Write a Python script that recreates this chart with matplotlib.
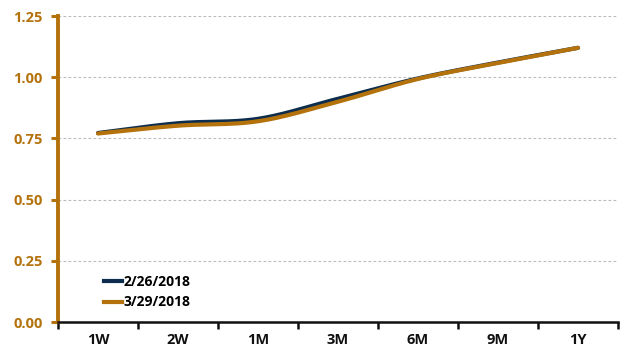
import numpy as np
import matplotlib
matplotlib.use("Agg")
import matplotlib.pyplot as plt
from matplotlib.lines import Line2D

tenors = ["1W", "2W", "1M", "3M", "6M", "9M", "1Y"]
curve_feb = [0.772, 0.812, 0.830, 0.912, 0.995, 1.060, 1.120]
curve_mar = [0.770, 0.802, 0.820, 0.900, 0.993, 1.058, 1.120]
yticks = [0.00, 0.25, 0.50, 0.75, 1.00, 1.25]

NAVY = "#0C2D4E"
GOLD = "#B4720C"


def smooth(xs, ys, n=30):
    """Catmull-Rom curve through the given points."""
    xs = np.asarray(xs, float)
    ys = np.asarray(ys, float)
    px = np.concatenate([[2 * xs[0] - xs[1]], xs, [2 * xs[-1] - xs[-2]]])
    py = np.concatenate([[2 * ys[0] - ys[1]], ys, [2 * ys[-1] - ys[-2]]])
    ox, oy = [], []
    t = np.linspace(0, 1, n, endpoint=False)
    for i in range(1, len(px) - 2):
        for arr, out in ((px, ox), (py, oy)):
            p0, p1, p2, p3 = arr[i - 1], arr[i], arr[i + 1], arr[i + 2]
            out.extend(0.5 * ((2 * p1) + (-p0 + p2) * t
                              + (2 * p0 - 5 * p1 + 4 * p2 - p3) * t ** 2
                              + (-p0 + 3 * p1 - 3 * p2 + p3) * t ** 3))
    ox.append(xs[-1])
    oy.append(ys[-1])
    return np.array(ox), np.array(oy)


plt.rcParams["font.family"] = ["Open Sans", "DejaVu Sans"]

fig = plt.figure(figsize=(6.2, 3.49), dpi=100)
ax = fig.add_axes([58 / 620, 27 / 349, 560 / 620, 306 / 349])

x = np.arange(len(tenors))
sx, sy = smooth(x, curve_feb)
ax.plot(sx, sy, color=NAVY, lw=3.0, solid_capstyle="round", zorder=3)
sx, sy = smooth(x, curve_mar)
ax.plot(sx, sy, color=GOLD, lw=3.0, solid_capstyle="round", zorder=4)

ax.set_xlim(-0.5, len(tenors) - 0.5)
ax.set_ylim(0, 1.25)
ax.set_yticks(yticks)
ax.set_yticklabels([f"{v:.2f}" for v in yticks], color=GOLD,
                   fontweight="bold", fontsize=10.5)
ax.yaxis.grid(True, linestyle=(0, (2.5, 2)), color="#BBBBBB", lw=0.8)
ax.set_axisbelow(True)

ax.set_xticks(x)
ax.set_xticklabels(tenors, fontweight="bold", fontsize=10.5, color="#111111")
ax.set_xticks(np.arange(-0.5, len(tenors)), minor=True)
ax.tick_params(axis="x", which="major", length=0, pad=8)
ax.tick_params(axis="x", which="minor", length=5, width=1.8, color="#111111",
               direction="out")
ax.tick_params(axis="y", length=5, width=2.2, color=GOLD, pad=6)

for side in ("top", "right"):
    ax.spines[side].set_visible(False)
ax.spines["left"].set_color(GOLD)
ax.spines["left"].set_linewidth(2.8)
ax.spines["bottom"].set_color("#111111")
ax.spines["bottom"].set_linewidth(1.8)

handles = [Line2D([], [], color=NAVY, lw=3), Line2D([], [], color=GOLD, lw=3)]
ax.legend(handles, ["2/26/2018", "3/29/2018"], loc="lower left",
          bbox_to_anchor=(0.06, 0.0), frameon=False, handlelength=1.3,
          handletextpad=0.1, labelspacing=0.45,
          prop={"weight": "bold", "size": 10})

fig.savefig("out.png", dpi=100)
